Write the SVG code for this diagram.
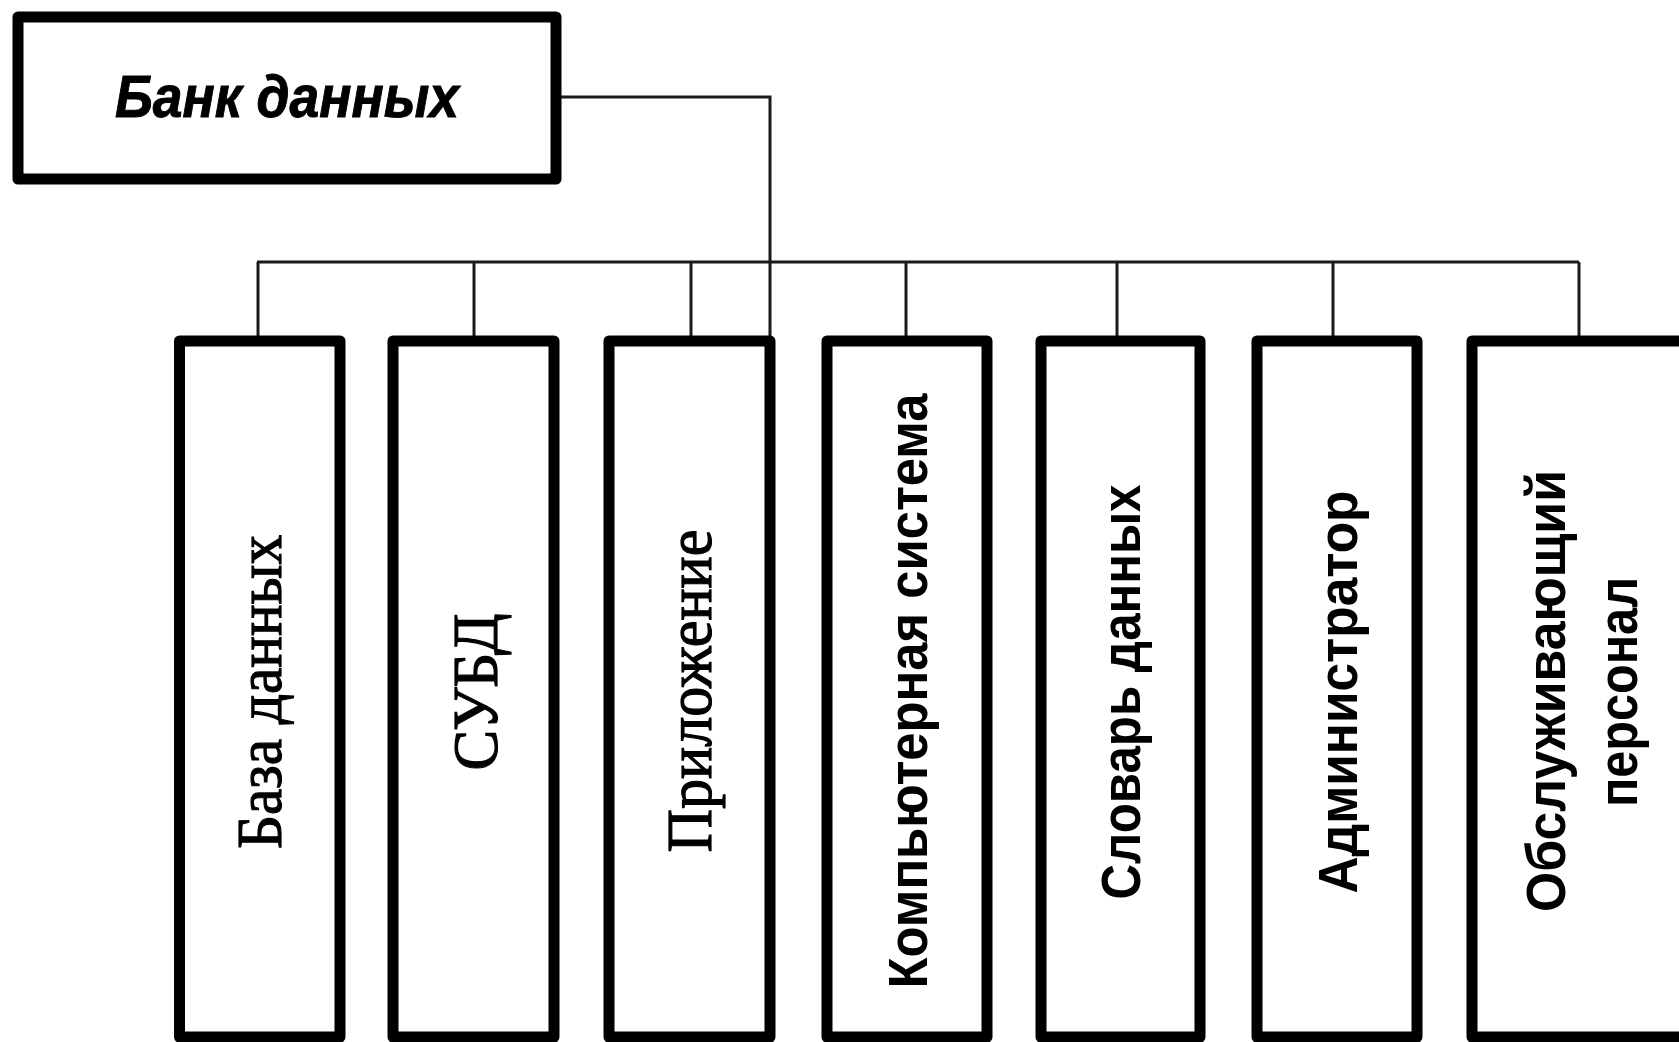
<svg xmlns="http://www.w3.org/2000/svg" width="1679" height="1042" viewBox="0 0 1679 1042">
<style>
.box{fill:#fff;stroke:#000;stroke-width:11;stroke-linejoin:round}
.con{fill:none;stroke:#1a1a1a;stroke-width:3}
.title{font-family:"Liberation Sans Narrow","Liberation Sans",sans-serif;font-weight:bold;font-style:italic;font-size:60px;fill:#000;stroke:#000;stroke-width:1}
.ser{font-family:"Liberation Serif",serif;font-size:64px;fill:#000;stroke:#000;stroke-width:1.2;text-anchor:middle}
.san{font-family:"Liberation Sans",sans-serif;font-weight:bold;font-size:56px;fill:#000;text-anchor:middle}
</style>
<rect width="1679" height="1042" fill="#fff"/>
<g id="connectors">
<polyline class="con" points="556,97 770,97 770,341"/>
<line class="con" x1="257" y1="262" x2="1579" y2="262"/>
<line class="con" x1="258" y1="262" x2="258" y2="341"/>
<line class="con" x1="474" y1="262" x2="474" y2="341"/>
<line class="con" x1="691" y1="262" x2="691" y2="341"/>
<line class="con" x1="906" y1="262" x2="906" y2="341"/>
<line class="con" x1="1117" y1="262" x2="1117" y2="341"/>
<line class="con" x1="1333" y1="262" x2="1333" y2="341"/>
<line class="con" x1="1579" y1="262" x2="1579" y2="341"/>
</g>
<g id="bank">
<rect class="box" x="18" y="17" width="538" height="162"/>
<text class="title" x="287" y="117" text-anchor="middle" textLength="344" lengthAdjust="spacingAndGlyphs">Банк данных</text>
</g>
<g id="db">
<rect class="box" x="179.500" y="341" width="160.500" height="696"/>
<text class="ser" transform="translate(281,692) rotate(-90)" textLength="314" lengthAdjust="spacingAndGlyphs">База данных</text>
</g>
<g id="dbms">
<rect class="box" x="393" y="341" width="161" height="696"/>
<text class="ser" transform="translate(497,692) rotate(-90)" textLength="157" lengthAdjust="spacingAndGlyphs">СУБД</text>
</g>
<g id="app">
<rect class="box" x="609" y="341" width="161" height="696"/>
<text class="ser" transform="translate(711,691) rotate(-90)" textLength="323" lengthAdjust="spacingAndGlyphs">Приложение</text>
</g>
<g id="computer">
<rect class="box" x="827" y="341" width="160" height="696"/>
<text class="san" transform="translate(927,691) rotate(-90)" textLength="595" lengthAdjust="spacingAndGlyphs">Компьютерная система</text>
</g>
<g id="dictionary">
<rect class="box" x="1041" y="341" width="159" height="696"/>
<text class="san" transform="translate(1140,692) rotate(-90)" textLength="415" lengthAdjust="spacingAndGlyphs">Словарь данных</text>
</g>
<g id="admin">
<rect class="box" x="1257" y="341" width="160" height="696"/>
<text class="san" transform="translate(1357,692) rotate(-90)" textLength="403" lengthAdjust="spacingAndGlyphs">Администратор</text>
</g>
<g id="staff">
<rect class="box" x="1472" y="341" width="230" height="696"/>
<text class="san" transform="translate(1565,691) rotate(-90)" textLength="442" lengthAdjust="spacingAndGlyphs">Обслуживающий</text>
<text class="san" transform="translate(1637,692) rotate(-90)" textLength="230" lengthAdjust="spacingAndGlyphs">персонал</text>
</g>
</svg>
